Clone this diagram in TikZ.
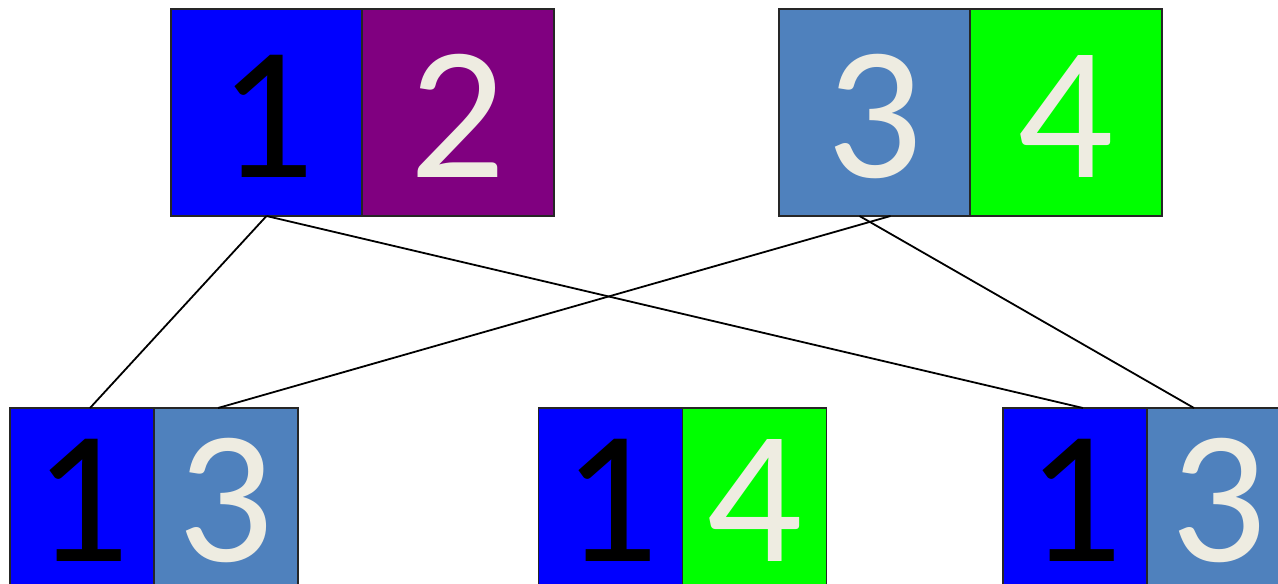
\documentclass[tikz,border=0pt]{standalone}
\usepackage{fontspec}
\setmainfont{Carlito}
\definecolor{cblue}{HTML}{0000FF}
\definecolor{cpurple}{HTML}{800080}
\definecolor{csteel}{HTML}{4F81BD}
\definecolor{cgreen}{HTML}{00FF00}
\definecolor{cwhite}{HTML}{EEECE1}
\tikzset{
  cell/.style={draw=black!85, line width=1.8pt, inner sep=0pt, outer sep=0pt,
    font=\fontsize{190}{200}\selectfont},
  topcell/.style={cell, minimum width=191.5pt, text height=168pt, text depth=39pt},
  botcell/.style={cell, minimum width=144pt, text height=153pt, text depth=47pt},
  link/.style={line width=1.8pt, black}
}
\begin{document}
\begin{tikzpicture}[x=1pt,y=-1pt]
\useasboundingbox[fill=white] (0,0) rectangle (1278,584);
% top
\node[topcell, fill=cblue, text=black] (t1) at (266.5,112.5) {1};
\node[topcell, fill=cpurple, text=cwhite] (t2) at (458,112.5) {2};
\node[topcell, fill=csteel, text=cwhite] (t3) at (874.5,112.5) {3};
\node[topcell, fill=cgreen, text=cwhite] (t4) at (1066,112.5) {4};
% bottom
\node[botcell, fill=cblue, text=black] (a1) at (82,508) {1};
\node[botcell, fill=csteel, text=cwhite] (a3) at (226,508) {3};
\node[botcell, fill=cblue, text=black] (m1) at (610.5,508) {1};
\node[botcell, fill=cgreen, text=cwhite] (m4) at (754.5,508) {4};
\node[botcell, fill=cblue, text=black] (r1) at (1075,508) {1};
\node[botcell, fill=csteel, text=cwhite] (r3) at (1219,508) {3};
% links
\draw[link] (t1.south) -- ([xshift=8pt]a1.north);
\draw[link] (t1.south) -- ([xshift=8pt]r1.north);
\draw[link] ([xshift=16pt]t3.south) -- ([xshift=-8pt]a3.north);
\draw[link] ([xshift=-15pt]t3.south) -- ([xshift=-25pt]r3.north);
\end{tikzpicture}
\end{document}
